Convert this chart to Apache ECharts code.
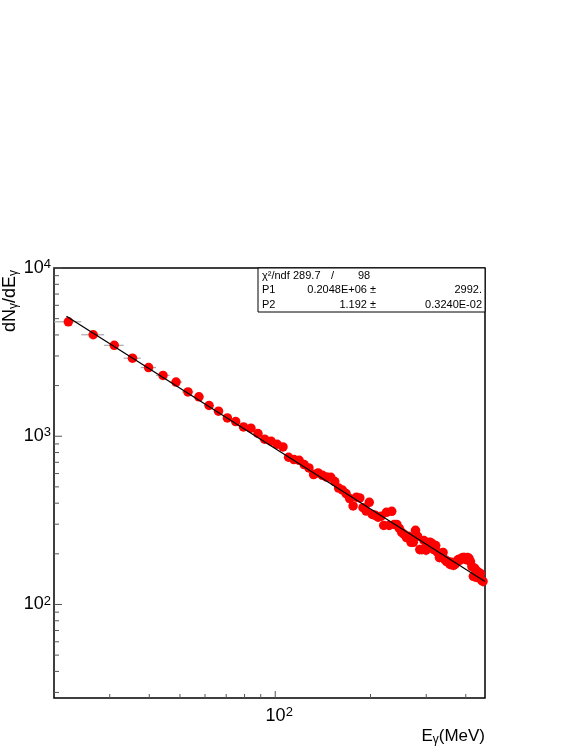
<!DOCTYPE html>
<html><head><meta charset="utf-8">
<script src="https://cdn.jsdelivr.net/npm/echarts@6/dist/echarts.min.js"></script>
<style>html,body{margin:0;padding:0;background:#fff}#c{width:581px;height:752px}</style>
</head><body><div id="c"></div>
<script>
// ---- data ----
const energies = [
  22.2, 26.6, 31.0, 35.4, 39.8, 44.2, 48.6, 53.0, 57.4, 61.8,
  66.2, 70.6, 75.0, 79.4, 83.8, 88.2, 92.6, 97.0, 101.4, 105.8,
  110.2, 114.6, 119.0, 123.4, 127.8, 132.2, 136.6, 141.0, 145.4, 149.8,
  154.2, 158.6, 163.0, 167.4, 171.8, 176.2, 180.6, 185.0, 189.4, 193.8,
  198.2, 202.6, 207.0, 211.4, 215.8, 220.2, 224.6, 229.0, 233.4, 237.8,
  242.2, 246.6, 251.0, 255.4, 259.8, 264.2, 268.6, 273.0, 277.4, 281.8,
  286.2, 290.6, 295.0, 299.4, 303.8, 308.2, 312.6, 317.0, 321.4, 325.8,
  330.2, 334.6, 339.0, 343.4, 347.8, 352.2, 356.6, 361.0, 365.4, 369.8,
  374.2, 378.6, 383.0, 387.4, 391.8, 396.2, 400.6, 405.0, 409.4, 413.8,
  418.2, 422.6, 427.0, 431.4, 435.8, 440.2, 444.6, 449.0, 453.4
];
const counts = [
  4790, 4010, 3470, 2910, 2560, 2300, 2100, 1835, 1714, 1523,
  1409, 1285, 1223, 1136, 1116, 1038, 960, 934, 896, 864,
  750, 727, 719, 679, 648, 592, 605, 586, 572, 570,
  538, 492, 479, 456, 426, 385, 434, 430, 376, 359,
  405, 343, 339, 330, 334, 295, 353, 295, 358, 299,
  299, 283, 268, 261, 250, 254, 234, 234, 276, 254,
  212, 212, 240, 210, 231, 234, 231, 212, 224, 204,
  190, 196, 204, 185, 180, 180, 173, 178, 171, 173,
  180, 185, 183, 188, 190, 190, 185, 190, 188, 180,
  168, 147, 164, 145, 157, 151, 153, 139, 137
];
const yErr = [
  96, 80, 69, 58, 51, 46, 42, 37, 34, 30, 28, 26, 24, 23, 22, 21, 19, 19, 18, 17,
  30, 29, 29, 27, 26, 24, 24, 23, 23, 23, 22, 20, 19, 18, 17, 15, 17, 17, 15, 14,
  16, 14, 14, 13, 13, 12, 14, 12, 14, 12, 12, 11, 11, 10, 10, 10, 9, 9, 11, 10,
  15, 15, 17, 15, 16, 16, 16, 15, 16, 14, 13, 14, 14, 13, 13, 13, 12, 12, 12, 12,
  13, 13, 13, 13, 13, 13, 13, 13, 13, 13, 12, 10, 11, 10, 11, 11, 11, 10, 10
];
const binHalfWidth = 2.2;
const fitE = [21.9, 460];
const fitV = [5170, 137];
const xRange = [20, 460];
const yRange = [27.8, 10000];
const xMajorTicks = [100];
const xMinorTicks = [30, 40, 50, 60, 70, 80, 90, 200, 300, 400];
const yMajorTicks = [100, 1000, 10000];
const yMinorTicks = [30, 40, 50, 60, 70, 80, 90, 200, 300, 400, 500, 600, 700, 800, 900,
                     2000, 3000, 4000, 5000, 6000, 7000, 8000, 9000];
const statsChi = '289.7';
const statsNdf = '98';
const statsP1 = ['0.2048E+06 \u00b1', '2992.'];
const statsP2 = ['1.192 \u00b1', '0.3240E-02'];

// ---- chart ----
const FONT = 'Liberation Sans';
const chart = echarts.init(document.getElementById('c'), null, {renderer: 'canvas'});
function isPow10(v) { const l = Math.log10(v); return Math.abs(l - Math.round(l)) < 1e-9; }

const tickData = [];
xMajorTicks.forEach(v => tickData.push([v, yRange[0], 0, 7]));
xMinorTicks.forEach(v => tickData.push([v, yRange[0], 0, 4]));
yMajorTicks.forEach(v => tickData.push([xRange[0], v, 1, 8]));
yMinorTicks.forEach(v => tickData.push([xRange[0], v, 1, 5]));

const option = {
  animation: false,
  backgroundColor: '#fff',
  grid: {left: 54, top: 268, width: 431, height: 430, show: true,
         borderColor: '#000', borderWidth: 1.5, backgroundColor: 'transparent'},
  xAxis: {
    type: 'log', logBase: 10, min: xRange[0], max: xRange[1],
    axisLine: {show: false}, axisTick: {show: false}, splitLine: {show: false},
    axisLabel: {
      margin: 8,
      formatter: v => isPow10(v) ? '{p|}{b|10}{s|' + Math.round(Math.log10(v)) + '}' : '',
      rich: {
        p: {width: 8},
        b: {fontSize: 18, fontFamily: FONT, color: '#000', lineHeight: 20},
        s: {fontSize: 13, fontFamily: FONT, color: '#000', verticalAlign: 'top', lineHeight: 12}
      }
    }
  },
  yAxis: {
    type: 'log', logBase: 10, min: yRange[0], max: yRange[1],
    axisLine: {show: false}, axisTick: {show: false}, splitLine: {show: false},
    axisLabel: {
      margin: 3,
      formatter: v => isPow10(v) ? '{b|10}{s|' + Math.round(Math.log10(v)) + '}' : '',
      rich: {
        b: {fontSize: 18, fontFamily: FONT, color: '#000', lineHeight: 20},
        s: {fontSize: 13, fontFamily: FONT, color: '#000', verticalAlign: 'top', lineHeight: 12}
      }
    }
  },
  series: [
    {
      type: 'custom', z: 1, clip: true,
      data: energies.map((e, i) => [e, counts[i], binHalfWidth, yErr[i]]),
      encode: {x: 0, y: 1},
      renderItem: (params, api) => {
        const e = api.value(0), v = api.value(1), hw = api.value(2), err = api.value(3);
        const c = api.coord([e, v]);
        const l = api.coord([e - hw, v]), r = api.coord([e + hw, v]);
        const t = api.coord([e, v + err]), b = api.coord([e, v - err]);
        return {type: 'group', children: [
          {type: 'line', shape: {x1: l[0], y1: c[1], x2: r[0], y2: c[1]}, style: {stroke: '#a8a8a8', lineWidth: 1.2}},
          {type: 'line', shape: {x1: c[0], y1: t[1], x2: c[0], y2: b[1]}, style: {stroke: '#a8a8a8', lineWidth: 1}}
        ]};
      }
    },
    {
      type: 'scatter', z: 3,
      data: energies.map((e, i) => [e, counts[i]]),
      symbol: 'circle', symbolSize: 9.5,
      itemStyle: {color: '#ff0000', opacity: 1}
    },
    {
      type: 'line', z: 4,
      data: fitE.map((e, i) => [e, fitV[i]]),
      symbol: 'none', lineStyle: {color: '#000', width: 1.3}
    },
    {
      type: 'custom', z: 5, clip: false,
      data: tickData,
      encode: {x: 0, y: 1},
      renderItem: (params, api) => {
        const p = api.coord([api.value(0), api.value(1)]);
        const vertical = api.value(2) === 1;
        const len = api.value(3);
        const shape = vertical ? {x1: p[0], y1: p[1], x2: p[0] + len, y2: p[1]}
                               : {x1: p[0], y1: p[1], x2: p[0], y2: p[1] - len};
        return {type: 'line', shape: shape, style: {stroke: '#555', lineWidth: 1}};
      }
    }
  ],
  graphic: [
    {type: 'text', x: 20, y: 332, rotation: Math.PI / 2, z: 50,
     style: {text: '{a|dN}{g|\u03b3}{a|/dE}{g|\u03b3}', align: 'left', verticalAlign: 'bottom',
       rich: {a: {fontSize: 18, fontFamily: FONT, fill: '#000', lineHeight: 20},
              g: {fontSize: 12, fontFamily: FONT, fill: '#000', verticalAlign: 'bottom', lineHeight: 14}}}},
    {type: 'text', x: 485, y: 746, z: 50,
     style: {text: '{a|E}{g|\u03b3}{a|(MeV)}', align: 'right', verticalAlign: 'bottom',
       rich: {a: {fontSize: 17, fontFamily: FONT, fill: '#000', lineHeight: 20},
              g: {fontSize: 12, fontFamily: FONT, fill: '#000', verticalAlign: 'bottom', lineHeight: 14}}}},
    {type: 'rect', z: 60, shape: {x: 258, y: 268, width: 227, height: 44},
     style: {fill: '#fff', stroke: '#000', lineWidth: 1}},
    {type: 'text', z: 61, x: 262, y: 276, style: {text: '\u03c7\u00b2/ndf', font: '11px ' + FONT, fill: '#000', verticalAlign: 'middle'}},
    {type: 'text', z: 61, x: 293, y: 276, style: {text: statsChi, font: '11px ' + FONT, fill: '#000', verticalAlign: 'middle'}},
    {type: 'text', z: 61, x: 331, y: 276, style: {text: '/', font: '11px ' + FONT, fill: '#000', verticalAlign: 'middle'}},
    {type: 'text', z: 61, x: 358, y: 276, style: {text: statsNdf, font: '11px ' + FONT, fill: '#000', verticalAlign: 'middle'}},
    {type: 'text', z: 61, x: 262, y: 290, style: {text: 'P1', font: '11px ' + FONT, fill: '#000', verticalAlign: 'middle'}},
    {type: 'text', z: 61, x: 376, y: 290, style: {text: statsP1[0], font: '11px ' + FONT, fill: '#000', align: 'right', verticalAlign: 'middle'}},
    {type: 'text', z: 61, x: 482, y: 290, style: {text: statsP1[1], font: '11px ' + FONT, fill: '#000', align: 'right', verticalAlign: 'middle'}},
    {type: 'text', z: 61, x: 262, y: 305, style: {text: 'P2', font: '11px ' + FONT, fill: '#000', verticalAlign: 'middle'}},
    {type: 'text', z: 61, x: 376, y: 305, style: {text: statsP2[0], font: '11px ' + FONT, fill: '#000', align: 'right', verticalAlign: 'middle'}},
    {type: 'text', z: 61, x: 482, y: 305, style: {text: statsP2[1], font: '11px ' + FONT, fill: '#000', align: 'right', verticalAlign: 'middle'}}
  ]
};
chart.setOption(option);
</script>
</body></html>
